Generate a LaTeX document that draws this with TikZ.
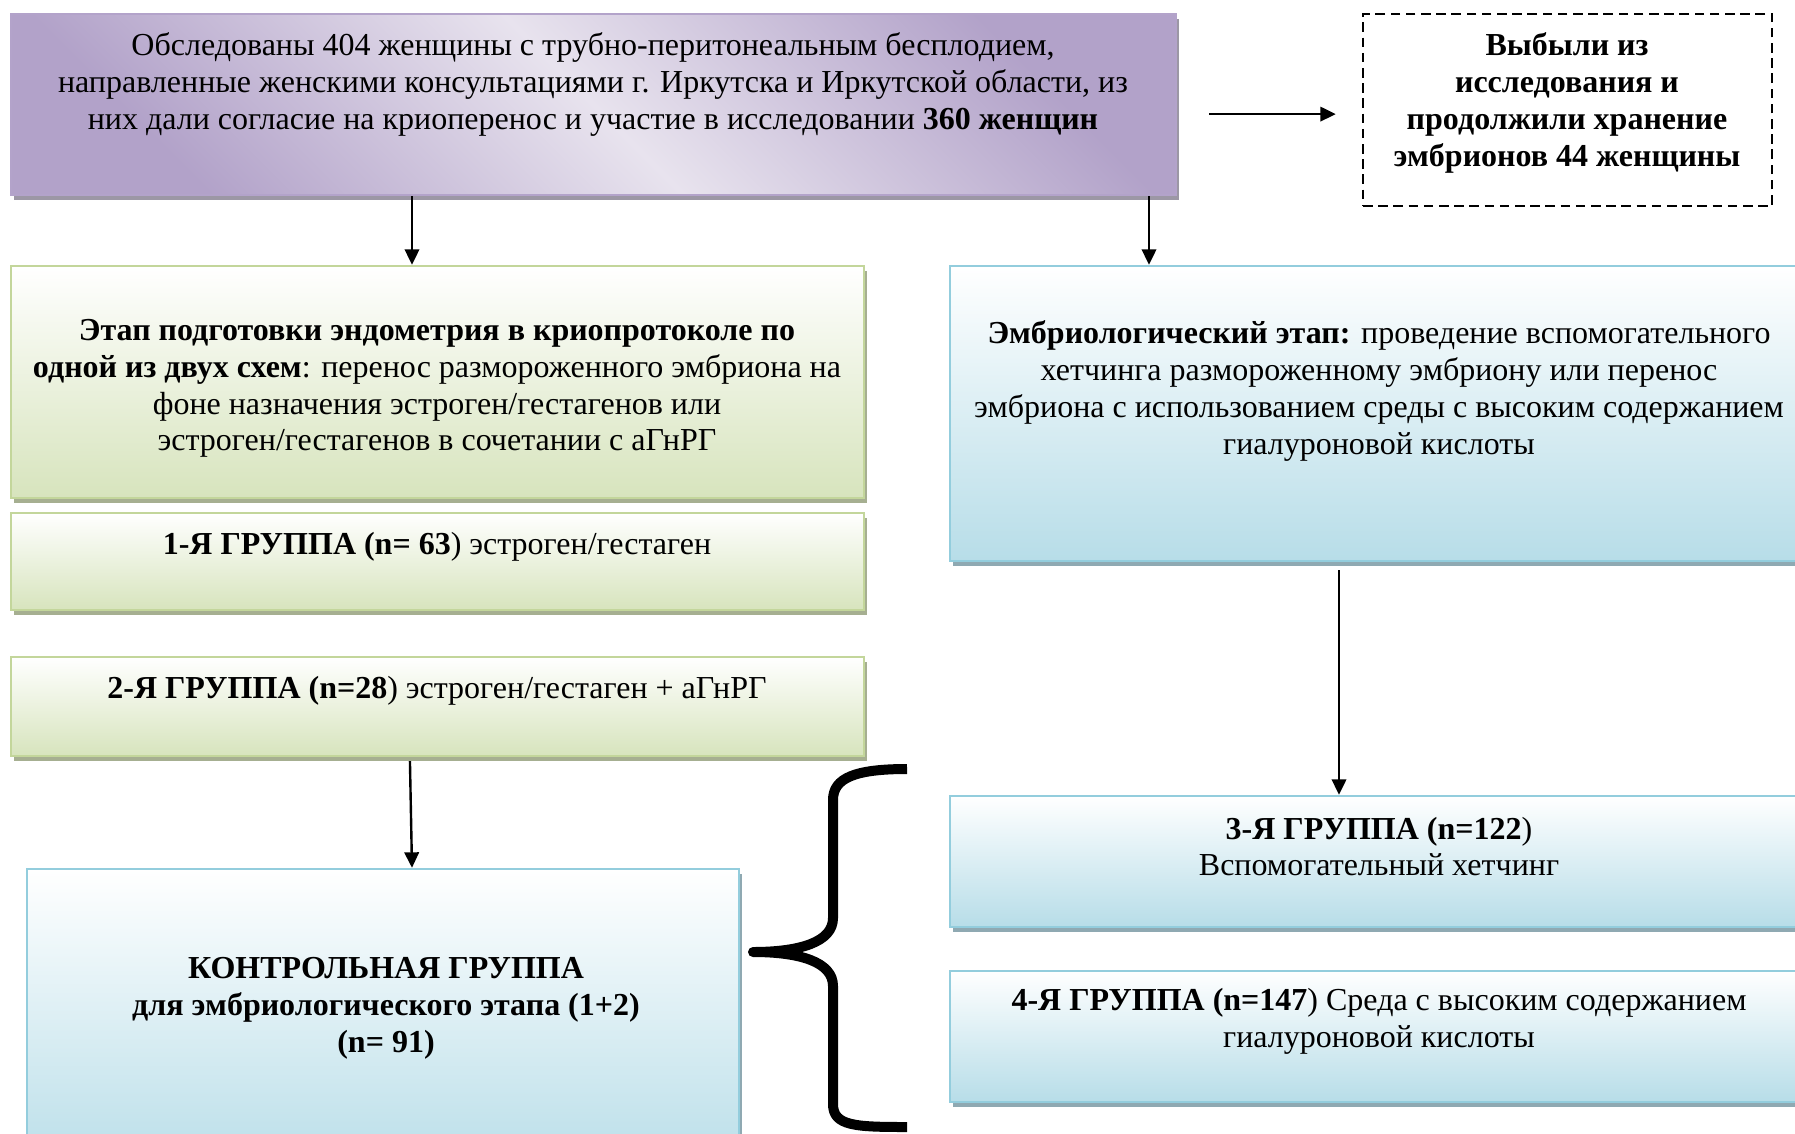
\documentclass[tikz,border=0pt]{standalone}
\usepackage{fontspec}
\setmainfont{Liberation Serif}
\usetikzlibrary{arrows.meta,fit,shadows}
\definecolor{purpdark}{HTML}{B2A2C9}
\definecolor{purplight}{HTML}{E8E3EE}
\definecolor{purpline}{HTML}{B3A3CA}
\definecolor{purpshadow}{HTML}{9C97A5}
\definecolor{greenline}{HTML}{C3D69B}
\definecolor{greenbot}{HTML}{D7E4BD}
\definecolor{greenshadow}{HTML}{A6AF91}
\definecolor{blueline}{HTML}{93CDDD}
\definecolor{bluebot}{HTML}{B7DDE8}
\definecolor{blueshadow}{HTML}{8FA9B2}

\begin{document}
\begin{tikzpicture}[x=.375pt,y=-.375pt,font=\fontsize{12pt}{13.8pt}\selectfont,>={Triangle[length=5.8pt,width=5.4pt]},
  purplebox/.style={draw=purpline,line width=.9pt,inner sep=0pt,
    left color=purpdark,right color=purpdark,middle color=purplight,shading angle=135,
    general shadow={fill=purpshadow,shadow xshift=1.1pt,shadow yshift=-1.9pt}},
  greenbox/.style={draw=greenline,line width=.9pt,inner sep=0pt,
    top color=white,bottom color=greenbot,
    general shadow={fill=greenshadow,shadow xshift=1.1pt,shadow yshift=-1.9pt}},
  bluebox/.style={draw=blueline,line width=.9pt,inner sep=0pt,
    top color=white,bottom color=bluebot,
    general shadow={fill=blueshadow,shadow xshift=1.1pt,shadow yshift=-1.9pt}},
  dropbox/.style={draw,line width=1pt,dash pattern=on 3.6pt off 2.1pt,inner sep=0pt},
  txt/.style={align=center,inner sep=0pt},
  arr/.style={->,line width=.9pt}]
 \useasboundingbox (0,0) rectangle (1795,1133);
 \clip (0,0) rectangle (1795,1133);

 % boxes
 \node[purplebox,fit={(11,14) (1176,195)}] (top) {};
 \node[dropbox,fit={(1363,14) (1772,206)}] (drop) {};
 \node[greenbox,fit={(11,266) (864,498)}] (prep) {};
 \node[greenbox,fit={(11,513) (864,610)}] (g1) {};
 \node[greenbox,fit={(11,657) (864,756)}] (g2) {};
 \node[bluebox,fit={(950,266) (1810,561)}] (emb) {};
 \node[bluebox,fit={(950,796) (1810,927)}] (g3) {};
 \node[bluebox,fit={(950,971) (1810,1102)}] (g4) {};
 \node[bluebox,fit={(27,869) (739,1180)}] (ctrl) {};

 % texts
 \node[txt] (top-t) at (593,84.5) {Обследованы 404 женщины с трубно-перитонеальным бесплодием,\\
   направленные женскими консультациями г. Иркутска и Иркутской области, из\\
   них дали согласие на криоперенос и участие в исследовании \textbf{360 женщин}};
 \node[txt,font=\fontsize{12pt}{13.8pt}\selectfont\bfseries] (drop-t) at (1567,103)
   {Выбыли из\\исследования и\\продолжили хранение\\эмбрионов 44 женщины};
 \node[txt] (prep-t) at (437,388.5) {\textbf{Этап подготовки эндометрия в криопротоколе по}\\
   \textbf{одной из двух схем}: перенос размороженного эмбриона на\\
   фоне назначения эстроген/гестагенов или\\
   эстроген/гестагенов в сочетании с аГнРГ};
 \node[txt] (g1-t) at (437,546.5) {\textbf{1-Я ГРУППА (n= 63}) эстроген/гестаген};
 \node[txt] (g2-t) at (437,690.5) {\textbf{2-Я ГРУППА (n=28}) эстроген/гестаген + аГнРГ};
 \node[txt] (emb-t) at (1379,391) {\textbf{Эмбриологический этап:} проведение вспомогательного\\
   хетчинга размороженному эмбриону или перенос\\
   эмбриона с использованием среды с высоким содержанием\\
   гиалуроновой кислоты};
 \node[txt] (g3-t) at (1379,846.5) {\textbf{3-Я ГРУППА (n=122})\\Вспомогательный хетчинг};
 \node[txt] (g4-t) at (1379,1021) {\textbf{4-Я ГРУППА (n=147}) Среда с высоким содержанием\\
   гиалуроновой кислоты};
 \node[txt,font=\fontsize{12pt}{13.8pt}\selectfont\bfseries] (ctrl-t) at (386,1008)
   {КОНТРОЛЬНАЯ ГРУППА\\для эмбриологического этапа (1+2)\\(n= 91)};

 % arrows
 \coordinate (lx) at (412,0);
 \coordinate (rx) at (1149,0);
 \coordinate (cx) at (1339,0);
 \draw[arr,shorten <=12pt,shorten >=9.7pt] ([yshift=-3.6pt]top.east) -- ([yshift=-3.6pt]top.east -| drop.west);
 \draw[arr] (top.south -| lx) -- (prep.north -| lx);
 \draw[arr] (top.south -| rx) -- (emb.north -| rx);
 \draw[arr,shorten <=3pt] (emb.south -| cx) -- (g3.north -| cx);
 \draw[arr,shorten <=1.5pt] ([xshift=-.8pt]g2.south -| lx) -- (ctrl.north -| lx);

 % brace
 \draw[line width=3.75pt,line join=round] (907,769) .. controls (855,769) and (833,778) .. (833,800)
   -- (833,918) .. controls (833,942) and (800,952) .. (753,952)
   .. controls (800,952) and (833,962) .. (833,986)
   -- (833,1104) .. controls (833,1126) and (855,1127) .. (907,1127);
\end{tikzpicture}
\end{document}
